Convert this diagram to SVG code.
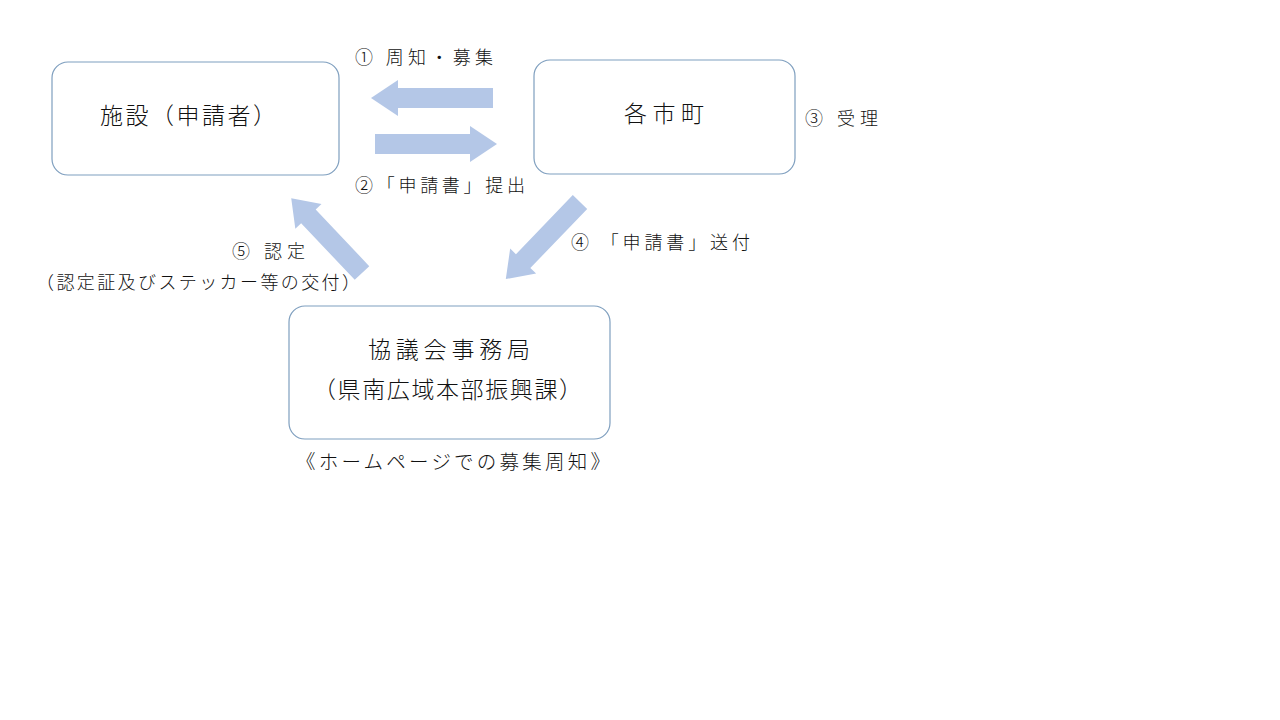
<svg xmlns="http://www.w3.org/2000/svg" width="1280" height="720" viewBox="0 0 1280 720">
<style>
.box{fill:#fff;stroke:#7f9fbf;stroke-width:1.2}
.arr{fill:#b4c7e7}
text{font-family:"Noto Sans CJK JP","Liberation Sans",sans-serif;fill:#111;font-weight:300}
.big{font-size:23px}
.lbl{font-size:18px}
</style>
<rect width="1280" height="720" fill="#fff"/>
<g id="shisetsu"><rect class="box" x="52" y="62" width="287" height="113" rx="16"/><text class="big" x="100" y="124" textLength="176" lengthAdjust="spacing">施設（申請者）</text></g>
<g id="shicho"><rect class="box" x="534" y="60" width="261" height="114" rx="16"/><text class="big" x="624" y="122" textLength="80" lengthAdjust="spacing">各市町</text></g>
<g id="kyogikai"><rect class="box" x="289" y="306" width="321" height="133" rx="16"/><text class="big" x="368" y="358" textLength="162" lengthAdjust="spacing">協議会事務局</text><text class="big" x="313" y="398" textLength="269" lengthAdjust="spacing">（県南広域本部振興課）</text></g>
<g id="connectors">
<polygon class="arr" transform="translate(493,98) rotate(180)" points="0,-10 95,-10 95,-18 122,0 95,18 95,10 0,10"/>
<polygon class="arr" transform="translate(375,144)" points="0,-10 95,-10 95,-18 122,0 95,18 95,10 0,10"/>
<polygon class="arr" transform="translate(580,202) rotate(133.9)" points="0,-10 82,-10 82,-18 107,0 82,18 82,10 0,10"/>
<polygon class="arr" transform="translate(362,273) rotate(226.6)" points="0,-10 78,-10 78,-18 103,0 78,18 78,10 0,10"/>
</g>
<text class="lbl" x="355" y="64" textLength="138" lengthAdjust="spacing">① 周知・募集</text>
<text class="lbl" x="355" y="192" textLength="170" lengthAdjust="spacing">②「申請書」提出</text>
<text class="lbl" x="805" y="125" textLength="73" lengthAdjust="spacing">③ 受理</text>
<text class="lbl" x="571" y="249" textLength="179" lengthAdjust="spacing">④ 「申請書」送付</text>
<text class="lbl" x="232" y="258" textLength="73" lengthAdjust="spacing">⑤ 認定</text>
<text class="lbl" x="36" y="289" textLength="324" lengthAdjust="spacing">（認定証及びステッカー等の交付）</text>
<text class="lbl" x="296" y="469" style="font-size:19.5px" textLength="314" lengthAdjust="spacing">《ホームページでの募集周知》</text>
</svg>
